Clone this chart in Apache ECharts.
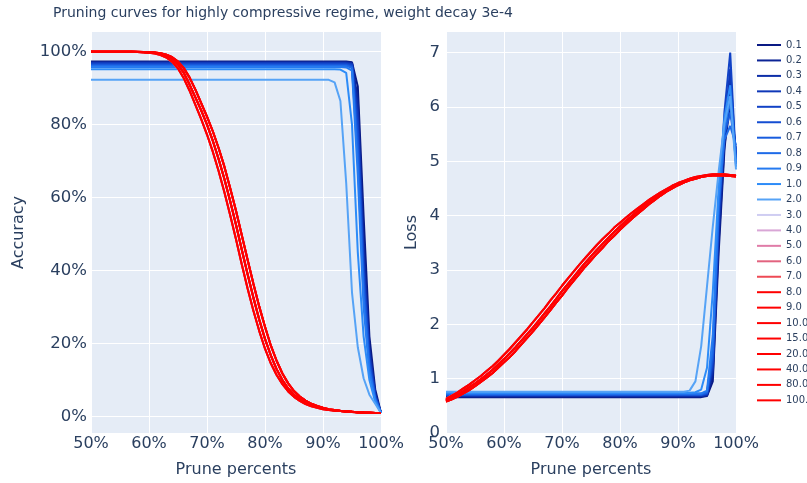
<!DOCTYPE html>
<html>
<head>
<meta charset="utf-8">
<script src="https://cdn.jsdelivr.net/npm/echarts@6/dist/echarts.min.js"></script>
<style>
  html, body { margin: 0; padding: 0; background: #ffffff; }
  #chart { width: 807px; height: 483px; }
</style>
</head>
<body>
<div id="chart"></div>
<script>
// Runs (legend order) and their line colours
const runNames = ['0.1', '0.2', '0.3', '0.4', '0.5', '0.6', '0.7', '0.8', '0.9', '1.0',
  '2.0', '3.0', '4.0', '5.0', '6.0', '7.0', '8.0', '9.0', '10.0', '15.0', '20.0', '40.0', '80.0', '100.0'];
const runColors = ['#0a1a84', '#0c2496', '#0d2ea8', '#0f38b8', '#1142c6', '#144ed2', '#185cde', '#1e6be8',
  '#257af0', '#2d8cf8', '#56a3f6', '#cfcdf2', '#d9a6d6', '#e07ca8', '#e2637f', '#ee4a55',
  '#ff0000', '#ff0000', '#ff0000', '#ff0000', '#ff0000', '#ff0000', '#ff0000', '#ff0000'];

// Prune percent grid for the runs that keep a plateau (0.1 ... 2.0)
const plateauX = [50, 90, 91, 92, 93, 94, 95, 96, 97, 98, 99, 100];
const plateauAccuracy = [
  [97.3, 97.3, 97.3, 97.3, 97.3, 97.3, 97.1, 90.5, 55.0, 22.0, 7.5, 1.0],
  [97.2, 97.2, 97.2, 97.2, 97.2, 97.2, 96.9, 87.0, 48.0, 19.0, 6.5, 1.0],
  [97.0, 97.0, 97.0, 97.0, 97.0, 97.0, 96.8, 85.0, 45.0, 18.0, 6.0, 1.0],
  [96.9, 96.9, 96.9, 96.9, 96.9, 96.9, 96.6, 82.0, 42.0, 17.0, 5.8, 1.0],
  [96.7, 96.7, 96.7, 96.7, 96.7, 96.7, 96.4, 80.0, 40.0, 16.0, 5.5, 1.0],
  [96.5, 96.5, 96.5, 96.5, 96.5, 96.5, 96.1, 77.0, 38.0, 15.0, 5.2, 1.0],
  [96.3, 96.3, 96.3, 96.3, 96.3, 96.3, 95.8, 74.0, 36.0, 14.0, 5.0, 1.0],
  [96.1, 96.1, 96.1, 96.1, 96.1, 96.1, 95.5, 70.0, 33.0, 13.0, 4.8, 1.0],
  [95.8, 95.8, 95.8, 95.8, 95.8, 95.7, 94.8, 66.0, 30.0, 12.0, 4.5, 1.0],
  [95.2, 95.2, 95.2, 95.2, 95.1, 94.2, 80.0, 45.0, 22.0, 10.0, 4.0, 1.0],
  [92.3, 92.3, 92.3, 91.6, 86.5, 64.0, 34.0, 19.0, 10.5, 6.0, 3.5, 1.0]
];
const plateauLoss = [
  [0.66, 0.66, 0.66, 0.66, 0.66, 0.66, 0.68, 0.95, 3.3, 5.2, 6.3, 5.1],
  [0.67, 0.67, 0.67, 0.67, 0.67, 0.67, 0.69, 1.05, 3.5, 5.3, 6.0, 5.2],
  [0.68, 0.68, 0.68, 0.68, 0.68, 0.68, 0.70, 1.15, 3.7, 5.5, 6.5, 5.0],
  [0.69, 0.69, 0.69, 0.69, 0.69, 0.69, 0.71, 1.2, 3.8, 5.6, 6.7, 5.0],
  [0.70, 0.70, 0.70, 0.70, 0.70, 0.70, 0.72, 1.3, 4.0, 5.9, 7.0, 4.95],
  [0.70, 0.70, 0.70, 0.70, 0.70, 0.70, 0.73, 1.35, 4.0, 5.6, 6.2, 5.1],
  [0.71, 0.71, 0.71, 0.71, 0.71, 0.71, 0.74, 1.45, 4.1, 5.5, 5.9, 5.2],
  [0.72, 0.72, 0.72, 0.72, 0.72, 0.72, 0.76, 1.55, 4.2, 5.4, 5.65, 5.3],
  [0.73, 0.73, 0.73, 0.73, 0.73, 0.73, 0.78, 1.8, 4.3, 5.6, 6.1, 5.0],
  [0.74, 0.74, 0.74, 0.74, 0.75, 0.80, 1.2, 2.6, 4.5, 5.8, 6.4, 4.9],
  [0.76, 0.76, 0.76, 0.78, 0.95, 1.6, 2.7, 3.8, 4.8, 5.7, 6.2, 4.85]
];

// Prune percent grid for the runs that decay smoothly (3.0 ... 100.0)
const decayX = [50, 51, 52, 53, 54, 55, 56, 57, 58, 59, 60, 61, 62, 63, 64, 65, 66, 67, 68, 69, 70,
  71, 72, 73, 74, 75, 76, 77, 78, 79, 80, 81, 82, 83, 84, 85, 86, 87, 88, 89, 90,
  91, 92, 93, 94, 95, 96, 97, 98, 99, 100];
const decayAccEarly = [100, 100, 100, 100, 100, 100, 100, 100, 99.9, 99.8, 99.7, 99.5, 99.1, 98.4, 97.2, 95.4,
  92.7, 89.3, 85.4, 81.5, 77.3, 72.6, 67.3, 61.5, 55.2, 48.6, 41.7, 35.1, 29.0, 23.5, 18.6, 14.6, 11.4,
  8.9, 6.9, 5.4, 4.3, 3.4, 2.8, 2.4, 2.0, 1.8, 1.6, 1.5, 1.35, 1.25, 1.15, 1.1, 1.05, 1.0, 1.0];
const decayAccMid = [100, 100, 100, 100, 100, 100, 100, 100, 99.9, 99.9, 99.8, 99.7, 99.4, 98.9, 98.0, 96.5,
  94.2, 91.0, 87.5, 83.9, 80.0, 75.6, 70.6, 65.1, 59.0, 52.6, 45.7, 39.0, 32.6, 26.6, 21.3, 16.8, 13.0,
  10.0, 7.7, 6.0, 4.8, 3.8, 3.1, 2.6, 2.2, 1.9, 1.7, 1.5, 1.4, 1.3, 1.2, 1.1, 1.05, 1.0, 1.0];
const decayAccLate = [100, 100, 100, 100, 100, 100, 100, 100, 100, 99.9, 99.9, 99.8, 99.6, 99.2, 98.5, 97.3,
  95.5, 92.9, 89.6, 85.9, 82.2, 78.2, 73.6, 68.5, 62.6, 56.4, 49.7, 43.0, 36.4, 30.2, 24.6, 19.5, 15.3,
  11.8, 9.1, 7.0, 5.5, 4.4, 3.5, 2.9, 2.4, 2.0, 1.8, 1.6, 1.45, 1.3, 1.2, 1.1, 1.05, 1.0, 1.0];
const decayLossHigh = [0.63, 0.69, 0.75, 0.82, 0.89, 0.97, 1.05, 1.14, 1.23, 1.33, 1.44, 1.55, 1.67, 1.79,
  1.91, 2.04, 2.17, 2.30, 2.44, 2.57, 2.71, 2.84, 2.97, 3.10, 3.22, 3.34, 3.46, 3.57, 3.67, 3.78, 3.87,
  3.96, 4.05, 4.13, 4.21, 4.29, 4.36, 4.43, 4.49, 4.55, 4.60, 4.64, 4.68, 4.71, 4.73, 4.75, 4.76, 4.76,
  4.76, 4.75, 4.74];
const decayLossMid = [0.60, 0.65, 0.71, 0.77, 0.84, 0.91, 0.99, 1.07, 1.16, 1.26, 1.36, 1.47, 1.58, 1.70,
  1.82, 1.94, 2.07, 2.20, 2.33, 2.47, 2.61, 2.74, 2.87, 3.00, 3.13, 3.25, 3.37, 3.48, 3.59, 3.70, 3.80,
  3.90, 3.99, 4.08, 4.17, 4.25, 4.33, 4.40, 4.47, 4.53, 4.58, 4.63, 4.67, 4.70, 4.72, 4.74, 4.75, 4.75,
  4.75, 4.74, 4.73];
const decayLossLow = [0.58, 0.62, 0.67, 0.73, 0.79, 0.86, 0.94, 1.02, 1.10, 1.20, 1.30, 1.40, 1.51, 1.63,
  1.75, 1.87, 2.00, 2.13, 2.26, 2.40, 2.53, 2.67, 2.80, 2.93, 3.06, 3.18, 3.30, 3.41, 3.53, 3.63, 3.74,
  3.84, 3.94, 4.03, 4.12, 4.21, 4.29, 4.37, 4.44, 4.50, 4.56, 4.61, 4.65, 4.68, 4.71, 4.73, 4.74, 4.74,
  4.74, 4.73, 4.72];
// which accuracy / loss curve each decaying run (3.0 ... 100.0) follows
const decayAccOf = [decayAccEarly, decayAccEarly, decayAccMid, decayAccLate, decayAccMid, decayAccEarly,
  decayAccLate, decayAccMid, decayAccLate, decayAccEarly, decayAccMid, decayAccLate, decayAccMid];
const decayLossOf = [decayLossHigh, decayLossHigh, decayLossMid, decayLossLow, decayLossMid, decayLossHigh,
  decayLossLow, decayLossMid, decayLossLow, decayLossMid, decayLossHigh, decayLossMid, decayLossLow];

const accTicks = [0, 20, 40, 60, 80, 100];
const lossTicks = [0, 1, 2, 3, 4, 5, 6, 7];

const textColor = '#2a3f5f';
const font = 'DejaVu Sans';

function pairs(xs, ys) { return xs.map((x, k) => [x, ys[k]]); }

const series = [];
runNames.forEach((name, i) => {
  let acc, loss;
  if (i < plateauAccuracy.length) {
    acc = pairs(plateauX, plateauAccuracy[i]);
    loss = pairs(plateauX, plateauLoss[i]);
  } else {
    const j = i - plateauAccuracy.length;
    acc = pairs(decayX, decayAccOf[j]);
    loss = pairs(decayX, decayLossOf[j]);
  }
  const common = {
    name: name, type: 'line', symbol: 'none', smooth: false,
    lineStyle: { width: 2, color: runColors[i] },
    itemStyle: { color: runColors[i] },
    emphasis: { disabled: true }, animation: false
  };
  series.push(Object.assign({}, common, { xAxisIndex: 0, yAxisIndex: 0, data: acc }));
  series.push(Object.assign({}, common, { xAxisIndex: 1, yAxisIndex: 1, data: loss }));
});

function xAxisFor(gridIndex) {
  return {
    type: 'value', gridIndex: gridIndex, min: 50, max: 100, interval: 10,
    name: 'Prune percents', nameLocation: 'middle', nameGap: 29,
    nameTextStyle: { color: textColor, fontSize: 16, fontFamily: font },
    axisLine: { show: false }, axisTick: { show: false },
    axisLabel: { color: textColor, fontSize: 16, fontFamily: font, margin: 3, formatter: v => v + '%' },
    splitLine: { show: true, lineStyle: { color: '#ffffff', width: 1 } }
  };
}

const option = {
  backgroundColor: '#ffffff',
  animation: false,
  title: {
    text: 'Pruning curves for highly compressive regime, weight decay 3e-4',
    left: 48, top: 1,
    textStyle: { color: textColor, fontSize: 14, fontWeight: 'normal', fontFamily: font }
  },
  legend: {
    orient: 'vertical', left: 752, top: 34,
    data: runNames,
    itemWidth: 24, itemHeight: 12, itemGap: 3.45,
    textStyle: { color: textColor, fontSize: 10, fontFamily: font, lineHeight: 12 },
    icon: 'path://M0,5 L24,5 L24,7 L0,7 Z',
    selectedMode: false
  },
  grid: [
    { left: 91, top: 32, width: 290, height: 401, show: true, backgroundColor: '#E5ECF6', borderWidth: 0 },
    { left: 446, top: 32, width: 290, height: 401, show: true, backgroundColor: '#E5ECF6', borderWidth: 0 }
  ],
  xAxis: [xAxisFor(0), xAxisFor(1)],
  yAxis: [
    {
      type: 'value', gridIndex: 0, min: -4.5, max: 105.4,
      name: 'Accuracy', nameLocation: 'middle', nameGap: 64,
      nameTextStyle: { color: textColor, fontSize: 16, fontFamily: font },
      axisLine: { show: false },
      axisTick: { show: false, customValues: accTicks },
      axisLabel: { color: textColor, fontSize: 16.5, fontFamily: font, margin: 4,
        customValues: accTicks, formatter: v => v + '%' },
      splitLine: { show: true, lineStyle: { color: '#ffffff', width: 1 } }
    },
    {
      type: 'value', gridIndex: 1, min: 0, max: 7.38,
      name: 'Loss', nameLocation: 'middle', nameGap: 26,
      nameTextStyle: { color: textColor, fontSize: 16, fontFamily: font },
      axisLine: { show: false },
      axisTick: { show: false, customValues: lossTicks },
      axisLabel: { color: textColor, fontSize: 16.5, fontFamily: font, margin: 6, customValues: lossTicks },
      splitLine: { show: true, lineStyle: { color: '#ffffff', width: 1 } }
    }
  ],
  series: series
};

const chart = echarts.init(document.getElementById('chart'), null, { renderer: 'canvas' });
chart.setOption(option);
</script>
</body>
</html>
